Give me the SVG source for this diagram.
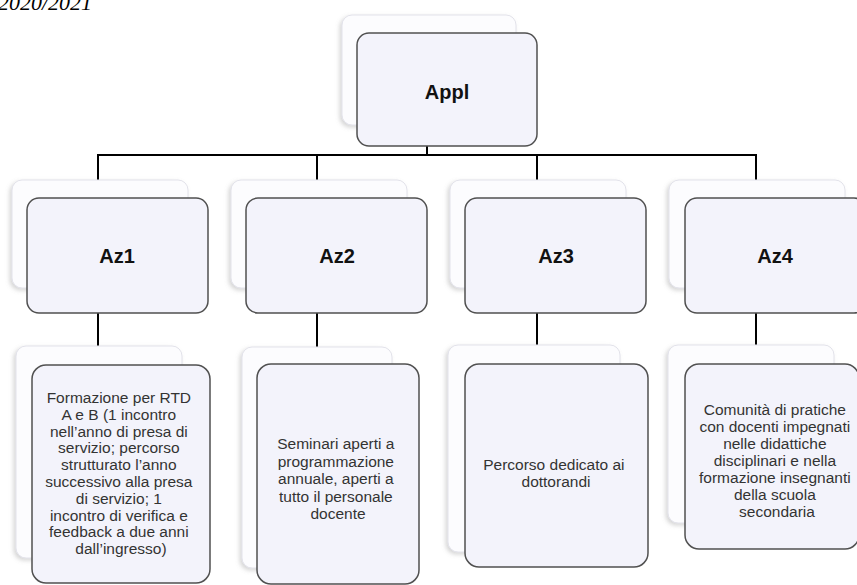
<svg xmlns="http://www.w3.org/2000/svg" width="857" height="585" viewBox="0 0 857 585">
<style>
.back{fill:#fcfcfe;stroke:#e2e2ea;stroke-width:1;filter:url(#sh)}
.front{fill:#f3f3fb;stroke:#505050;stroke-width:1.5}
.lbl{font-family:"Liberation Sans",Arial,sans-serif;font-weight:bold;font-size:20px;fill:#111;text-anchor:middle}
.txt{font-family:"Liberation Sans",Arial,sans-serif;font-size:15.5px;fill:#333;text-anchor:middle}
.conn{stroke:#000;stroke-width:2;fill:none}
</style>
<defs>
<filter id="sh" x="-10%" y="-10%" width="120%" height="120%">
<feDropShadow dx="-2" dy="2" stdDeviation="2" flood-color="#888" flood-opacity="0.35"/>
</filter>
</defs>
<rect width="857" height="585" fill="#fff"/>
<text x="-2" y="10" font-family="'Liberation Serif','Times New Roman',serif" font-style="italic" font-size="22" fill="#000">2020/2021</text>
<g id="connectors" class="conn">
<line x1="427" y1="125" x2="427" y2="156"/>
<line x1="97" y1="155" x2="757" y2="155"/>
<line x1="98" y1="155" x2="98" y2="182"/>
<line x1="317" y1="155" x2="317" y2="182"/>
<line x1="537" y1="155" x2="537" y2="182"/>
<line x1="756" y1="155" x2="756" y2="182"/>
<line x1="98" y1="288" x2="98" y2="348"/>
<line x1="317" y1="288" x2="317" y2="348"/>
<line x1="537" y1="288" x2="537" y2="348"/>
<line x1="756" y1="288" x2="756" y2="348"/>
</g>
<g id="appl">
<rect class="back" x="342" y="15" width="174" height="110" rx="10"/>
<rect class="front" x="357" y="33" width="180" height="113" rx="12"/>
<text class="lbl" x="447" y="99">Appl</text>
</g>
<g id="az1">
<rect class="back" x="12" y="180" width="176" height="108" rx="10"/>
<rect class="front" x="27" y="198" width="181" height="115" rx="12"/>
<text class="lbl" x="117" y="263">Az1</text>
</g>
<g id="az2">
<rect class="back" x="231" y="180" width="176" height="108" rx="10"/>
<rect class="front" x="246" y="198" width="181" height="115" rx="12"/>
<text class="lbl" x="337" y="263">Az2</text>
</g>
<g id="az3">
<rect class="back" x="450" y="180" width="176" height="108" rx="10"/>
<rect class="front" x="465" y="198" width="181" height="115" rx="12"/>
<text class="lbl" x="556" y="263">Az3</text>
</g>
<g id="az4">
<rect class="back" x="669" y="180" width="176" height="108" rx="10"/>
<rect class="front" x="685" y="198" width="181" height="115" rx="12"/>
<text class="lbl" x="775" y="263">Az4</text>
</g>
<g id="d1">
<rect class="back" x="16" y="346" width="166" height="212" rx="10"/>
<rect class="front" x="32" y="365" width="178" height="218" rx="14"/>
<text class="txt" x="121" y="403">
<tspan x="121">Formazione per RTD</tspan>
<tspan x="121" dy="16.8">A e B (1 incontro</tspan>
<tspan x="121" dy="16.8">nell’anno di presa di</tspan>
<tspan x="121" dy="16.8">servizio; percorso</tspan>
<tspan x="121" dy="16.8">strutturato l’anno</tspan>
<tspan x="121" dy="16.8">successivo alla presa</tspan>
<tspan x="121" dy="16.8">di servizio; 1</tspan>
<tspan x="121" dy="16.8">incontro di verifica e</tspan>
<tspan x="121" dy="16.8">feedback a due anni</tspan>
<tspan x="121" dy="16.8">dall’ingresso)</tspan>
</text>
</g>
<g id="d2">
<rect class="back" x="242" y="347" width="150" height="221" rx="10"/>
<rect class="front" x="257" y="364" width="162" height="220" rx="14"/>
<text class="txt" x="338" y="449">
<tspan x="338">Seminari aperti a</tspan>
<tspan x="338" dy="17.5">programmazione</tspan>
<tspan x="338" dy="17.5">annuale, aperti a</tspan>
<tspan x="338" dy="17.5">tutto il personale</tspan>
<tspan x="338" dy="17.5">docente</tspan>
</text>
</g>
<g id="d3">
<rect class="back" x="448" y="345" width="172" height="207" rx="10"/>
<rect class="front" x="465" y="364" width="183" height="203" rx="14"/>
<text class="txt" x="556" y="470">
<tspan x="556">Percorso dedicato ai</tspan>
<tspan x="556" dy="17">dottorandi</tspan>
</text>
</g>
<g id="d4">
<rect class="back" x="668" y="345" width="166" height="178" rx="10"/>
<rect class="front" x="685" y="364" width="174" height="185" rx="14"/>
<text class="txt" x="777" y="415">
<tspan x="777">Comunità di pratiche</tspan>
<tspan x="777" dy="17">con docenti impegnati</tspan>
<tspan x="777" dy="17">nelle didattiche</tspan>
<tspan x="777" dy="17">disciplinari e nella</tspan>
<tspan x="777" dy="17">formazione insegnanti</tspan>
<tspan x="777" dy="17">della scuola</tspan>
<tspan x="777" dy="17">secondaria</tspan>
</text>
</g>
</svg>
